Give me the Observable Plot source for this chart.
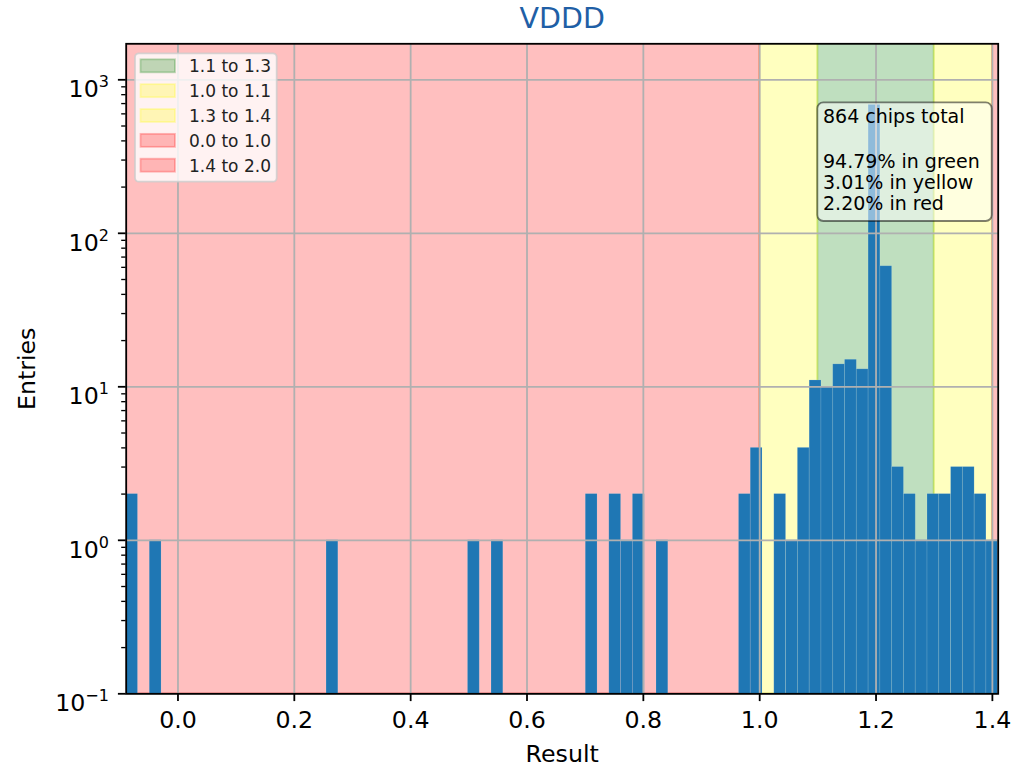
<!DOCTYPE html>
<html><head><meta charset="utf-8">
<script src="https://cdn.jsdelivr.net/npm/d3@7"></script>
<script src="https://cdn.jsdelivr.net/npm/@observablehq/plot@0.6"></script>
<style>
html,body{margin:0;padding:0;background:#fff;}
#chart{position:relative;width:1029px;height:767px;}
</style></head><body><div id="chart"></div>
<script>
// ---- data ----
const binStart = [-0.0890, -0.0485, 0.2554, 0.4985, 0.5390, 0.7010, 0.7415, 0.7618, 0.7820, 0.8226,
  0.9644, 0.9846, 1.0251, 1.0454, 1.0656, 1.0859, 1.1062, 1.1264, 1.1467, 1.1669,
  1.1872, 1.2074, 1.2277, 1.2480, 1.2682, 1.2885, 1.3087, 1.3290, 1.3492, 1.3695, 1.3897];
const binCount = [2, 1, 1, 1, 1, 2, 2, 1, 2, 1,
  2, 4, 2, 1, 4, 11, 10, 14, 15, 13,
  686, 61, 3, 2, 1, 2, 2, 3, 3, 2, 1];
const binWidth = 0.02026;
const xDomain = [-0.089, 1.410];
const yDomain = [0.1, 1716];
const xTicks = [0.0, 0.2, 0.4, 0.6, 0.8, 1.0, 1.2, 1.4];
const xTickLabels = ["0.0", "0.2", "0.4", "0.6", "0.8", "1.0", "1.2", "1.4"];
const yTicks = [0.1, 1, 10, 100, 1000];
const yTickExp = ["\u22121", "0", "1", "2", "3"];
const yMinor = [0.2,0.3,0.4,0.5,0.6,0.7,0.8,0.9, 2,3,4,5,6,7,8,9, 20,30,40,50,60,70,80,90, 200,300,400,500,600,700,800,900];
const spanStart = [1.1, 1.0, 1.3, -0.089, 1.4];
const spanEnd = [1.3, 1.1, 1.4, 1.0, 2.0];
const spanColor = ["green", "yellow", "yellow", "red", "red"];
const spanLabel = ["1.1 to 1.3", "1.0 to 1.1", "1.3 to 1.4", "0.0 to 1.0", "1.4 to 2.0"];
const annotationLines = ["864 chips total", "", "94.79% in green", "3.01% in yellow", "2.20% in red"];
const titleText = "VDDD";
const xLabel = "Result";
const yLabel = "Entries";

// ---- tables ----
const bins = binStart.map((x, i) => ({x1: x, x2: x + binWidth, y: binCount[i]}));
const spans = spanStart.map((s, i) => ({x1: s, x2: spanEnd[i], c: spanColor[i]}));
const FS = 23.7;

const plot = Plot.plot({
  width: 1029, height: 767,
  marginLeft: 125.7, marginRight: 31.3, marginTop: 43.3, marginBottom: 73.7,
  style: {fontFamily: "DejaVu Sans", fontSize: FS + "px", background: "white", color: "black", overflow: "visible"},
  x: {domain: xDomain},
  y: {type: "log", domain: yDomain},
  color: {type: "identity"},
  marks: [
    Plot.rect(spans, {x1: "x1", x2: "x2", fill: "c", fillOpacity: 0.25, stroke: "c", strokeOpacity: 0.25, strokeWidth: 1.8, clip: true}),
    Plot.rect(bins, {x1: "x1", x2: "x2", y1: yDomain[0], y2: "y", fill: "#1f77b4", stroke: "white", strokeOpacity: 0.15, strokeWidth: 0.8, clip: true}),
    Plot.gridX(xTicks, {stroke: "#b0b0b0", strokeOpacity: 1, strokeWidth: 1.8}),
    Plot.gridY(yTicks, {stroke: "#b0b0b0", strokeOpacity: 1, strokeWidth: 1.8}),
    Plot.frame({stroke: "black", strokeWidth: 1.8}),
    Plot.axisX(xTicks, {tickSize: 7.8, tickPadding: 9.4, strokeWidth: 1.8, fontSize: FS, tickFormat: d => xTickLabels[xTicks.indexOf(d)], label: null}),
    Plot.axisY(yMinor, {tickSize: 4.5, strokeWidth: 1.34, tickFormat: () => "", label: null}),
    Plot.axisY(yTicks, {tickSize: 7.8, tickPadding: 9.5, strokeWidth: 1.8, fontSize: FS, tickFormat: d => "10^" + yTickExp[yTicks.indexOf(d)], label: null}),
    Plot.text([titleText], {frameAnchor: "top", lineAnchor: "middle", dy: -25.1, fontSize: 28.5, fill: "#1f5fa6"}),
    Plot.text([xLabel], {frameAnchor: "bottom", lineAnchor: "middle", dy: 60.8, fontSize: FS}),
    Plot.text([yLabel], {frameAnchor: "left", lineAnchor: "middle", textAnchor: "middle", dx: -99, rotate: -90, fontSize: FS})
  ]
});
document.getElementById("chart").appendChild(plot);

// superscript tick labels
const svg = d3.select(plot);
svg.selectAll('[aria-label="y-axis tick label"] text').each(function() {
  const t = d3.select(this);
  const s = t.text();
  if (!s.startsWith("10^")) return;
  const e = s.slice(3);
  t.text("");
  t.attr("dy", null);
  t.append("tspan").attr("dy", "0.42em").text("10");
  t.append("tspan").attr("dy", "-10").attr("font-size", 16).text(e);
});

// legend
const lg = svg.append("g").attr("font-family", "DejaVu Sans").attr("text-anchor", "start");
lg.append("rect").attr("x", 135).attr("y", 53.3).attr("width", 141.7).attr("height", 128.4).attr("rx", 4)
  .attr("fill", "white").attr("fill-opacity", 0.8).attr("stroke", "#cccccc").attr("stroke-opacity", 0.8).attr("stroke-width", 1.8);
spanLabel.forEach((lab, i) => {
  lg.append("rect").attr("x", 140.5).attr("y", 59.3 + 24.85 * i).attr("width", 34.5).attr("height", 13)
    .attr("fill", spanColor[i]).attr("fill-opacity", 0.25).attr("stroke", spanColor[i]).attr("stroke-opacity", 0.25).attr("stroke-width", 1.8);
  lg.append("text").attr("x", 189).attr("y", 72.3 + 24.85 * i).attr("font-size", 17).attr("fill", "#222").text(lab);
});

// annotation box
const ag = svg.append("g").attr("font-family", "DejaVu Sans").attr("text-anchor", "start");
ag.append("rect").attr("x", 817.3).attr("y", 102.3).attr("width", 174.4).attr("height", 118.7).attr("rx", 6)
  .attr("fill", "white").attr("fill-opacity", 0.5).attr("stroke", "black").attr("stroke-opacity", 0.5).attr("stroke-width", 1.8);
const baselines = [123.3, 145.8, 168.3, 189.2, 210];
annotationLines.forEach((line, i) => {
  if (!line) return;
  ag.append("text").attr("x", 823).attr("y", baselines[i]).attr("font-size", 19).attr("fill", "black").text(line);
});
</script></body></html>
